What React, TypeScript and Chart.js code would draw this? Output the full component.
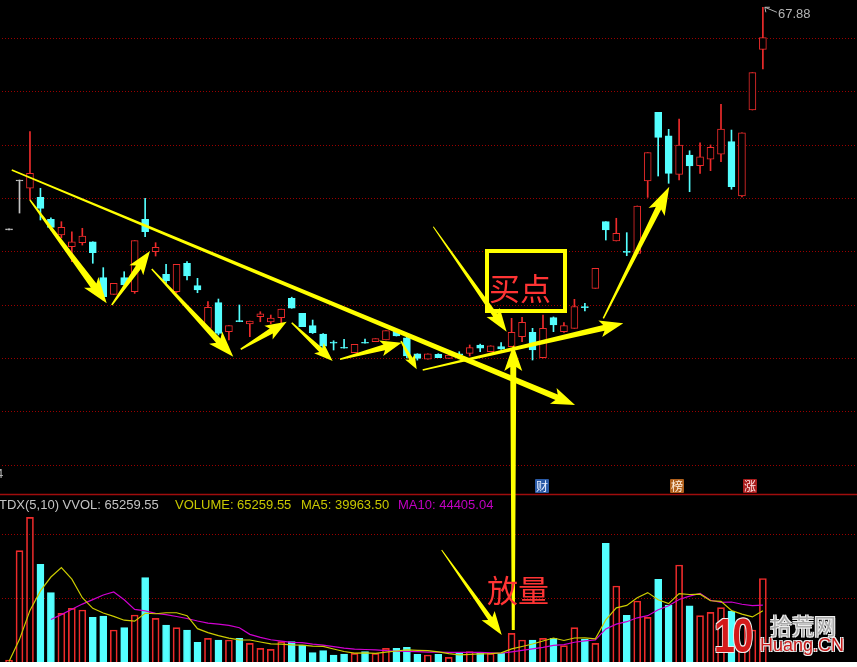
import React, { useEffect, useRef } from "react";
import { Chart, registerables } from "chart.js";

Chart.register(...registerables);

// ---------------- data (bar k = 0..72, left to right) ----------------
const OPEN = [47.10, 51.69, 50.91, 50.07, 48.00, 46.53, 45.43, 45.81, 45.90, 42.53, 40.97, 42.53, 41.21, 48.00, 44.97, 42.85, 41.21, 43.88, 41.78, 37.78, 40.19, 37.47, 38.50, 38.19, 38.87, 38.38, 38.78, 40.60, 39.19, 38.03, 37.25, 36.50, 36.00, 35.50, 36.48, 36.53, 36.69, 37.53, 36.90, 35.38, 34.88, 35.35, 34.97, 35.38, 35.44, 36.22, 35.59, 36.06, 36.06, 37.00, 37.41, 35.03, 38.78, 37.47, 37.78, 39.83, 41.53, 47.78, 45.97, 45.00, 44.81, 51.59, 58.03, 55.84, 52.22, 54.03, 53.03, 53.63, 54.12, 55.28, 50.19, 58.25, 63.94];
const HIGH = [47.10, 51.69, 56.22, 50.91, 48.13, 47.78, 46.84, 47.16, 45.90, 43.47, 42.00, 43.09, 46.00, 49.97, 45.81, 43.78, 43.78, 44.03, 42.47, 40.28, 40.53, 38.03, 39.97, 38.47, 39.34, 39.03, 39.59, 40.70, 39.19, 38.56, 37.30, 36.62, 36.75, 36.28, 36.78, 36.81, 37.56, 37.60, 36.95, 35.40, 35.38, 35.40, 35.28, 35.59, 36.22, 36.30, 36.15, 36.44, 38.72, 38.82, 37.78, 39.03, 38.85, 38.31, 40.50, 40.13, 43.41, 47.78, 48.10, 46.75, 49.25, 54.25, 58.03, 56.44, 57.41, 54.43, 55.18, 54.97, 58.78, 56.37, 56.12, 61.75, 67.88];
const LOW = [47.00, 48.59, 49.81, 47.94, 47.00, 46.25, 44.03, 45.59, 43.88, 40.44, 40.97, 41.84, 41.06, 46.37, 44.56, 42.00, 41.12, 42.31, 41.12, 37.78, 37.16, 36.69, 38.40, 37.00, 38.40, 38.20, 38.31, 39.66, 37.94, 37.30, 35.90, 35.75, 35.91, 35.50, 36.38, 36.53, 36.69, 37.06, 35.00, 34.80, 34.88, 35.03, 34.97, 35.28, 35.19, 35.59, 35.59, 35.80, 36.06, 36.53, 34.81, 35.00, 37.47, 37.40, 37.78, 39.41, 41.53, 46.06, 45.97, 44.59, 44.81, 50.06, 52.06, 51.38, 51.69, 50.59, 52.31, 52.56, 53.40, 50.82, 50.10, 58.25, 62.09];
const CLOSE = [47.00, 51.60, 52.31, 49.03, 47.25, 47.25, 45.90, 46.44, 44.87, 40.75, 42.00, 41.84, 46.00, 46.84, 45.38, 42.25, 43.78, 42.69, 41.38, 39.75, 37.31, 38.03, 38.40, 38.47, 39.13, 38.75, 39.59, 39.66, 37.94, 37.37, 36.12, 36.40, 35.91, 36.28, 36.38, 36.81, 37.56, 37.06, 35.20, 34.97, 35.38, 35.03, 35.28, 35.28, 35.97, 35.91, 36.15, 35.84, 37.41, 38.35, 35.75, 37.78, 38.09, 38.03, 39.83, 39.73, 43.41, 47.00, 46.69, 44.90, 49.25, 54.25, 55.69, 52.31, 54.97, 53.00, 53.87, 54.75, 56.47, 51.06, 56.12, 61.75, 65.03];
const GRAY_BARS = [0, 1];

const VOLUME = [1500, 86950, 113040, 76300, 54150, 38020, 41930, 40625, 34900, 35940, 25000, 26800, 36720, 65890, 34115, 28900, 26800, 25000, 15360, 18490, 17190, 17190, 18490, 14580, 10680, 9900, 15885, 15885, 13280, 7290, 8850, 5470, 6250, 6770, 8070, 6770, 10680, 10680, 11460, 5990, 5470, 5990, 3640, 6770, 8070, 7290, 6770, 6770, 22400, 17190, 17190, 18490, 18490, 12760, 26800, 17970, 14580, 92710, 59375, 36460, 47660, 34900, 64580, 44530, 75780, 43960, 36200, 38800, 42450, 39840, 30000, 25000, 65259.55];
const MA5 = [300, 17690, 40298, 55558, 66388, 73692, 64688, 50205, 41925, 38283, 35679, 32653, 31872, 38070, 37705, 38485, 38485, 36141, 26035, 22910, 20568, 18646, 17344, 17188, 15626, 14168, 13907, 13386, 13126, 12448, 12238, 10155, 8228, 6926, 7082, 6666, 7708, 8594, 9532, 9116, 8856, 7918, 6510, 5572, 5988, 6352, 6508, 7134, 10260, 12084, 14064, 16408, 18752, 16824, 18746, 18902, 18120, 32964, 42287, 44219, 50157, 54221, 48595, 45626, 53490, 52750, 53010, 47854, 47438, 40250, 37458, 35218, 39963.50];
const MA10 = [null, null, null, null, 33194, 36996, 41189, 45252, 48742, 52336, 54686, 48671, 41039, 39998, 37994, 37082, 35569, 34007, 32053, 30308, 29527, 28566, 26743, 21612, 19268, 17368, 16277, 15365, 15157, 14037, 13203, 12031, 10807, 10026, 9765, 9452, 8932, 8411, 8229, 8099, 7761, 7813, 7552, 7552, 7552, 7604, 7213, 6822, 7916, 9036, 10208, 11458, 12943, 13542, 15415, 16483, 17264, 25858, 29556, 31483, 34530, 36171, 40780, 43957, 48855, 51454, 53616, 48225, 46532, 46870, 45104, 44114, 44405.04];

const PRICE_GRID = [25, 30, 35, 40, 45, 50, 55, 60, 65];
const VOLUME_GRID = [50000, 100000];
const VOLUME_PANEL_TOP = 131250;

// annotation arrows: [bar0, value0, axis0, bar1, value1, axis1]  (axis: "p" price, "v" volume)
const ARROWS: [number, number, string, number, number, string][] = [
  [0.26, 52.62, "p", 54.06, 30.59, "p"],
  [2.0, 49.81, "p", 9.33, 40.13, "p"],
  [9.81, 39.97, "p", 13.46, 45.03, "p"],
  [13.63, 43.34, "p", 21.42, 35.12, "p"],
  [22.13, 35.82, "p", 26.52, 38.4, "p"],
  [27.0, 38.31, "p", 30.91, 34.72, "p"],
  [31.61, 34.88, "p", 37.5, 36.43, "p"],
  [37.44, 36.59, "p", 38.94, 33.94, "p"],
  [39.51, 33.87, "p", 58.67, 38.25, "p"],
  [56.76, 38.72, "p", 63.06, 51.06, "p"],
  [40.52, 47.31, "p", 47.53, 37.47, "p"],
  [48.16, 25000, "v", 48.16, 36.22, "p"],
  [41.32, 87500, "v", 47.06, 21094, "v"],
];

// ---------------- styles ----------------
const UP = "#ee2b2b";
const DOWN = "#54ffff";
const GRAY = "#c4c4c4";
const MA5_COLOR = "#cccc00";
const MA10_COLOR = "#d000d0";
const GRID_COLOR = "#9a0000";
const ARROW_COLOR = "#ffff00";
// [startWidth, endWidth, headLength, headWidth]
const ARROW_STYLE = [
  [1.5, 6, 20, 17],
  [1.5, 7, 22, 18],
  [1.5, 6, 20, 17],
  [1.5, 6, 22, 18],
  [1.5, 6, 18, 16],
  [1.5, 5, 16, 14],
  [1.5, 6, 18, 16],
  [1.5, 4, 12, 11],
  [1.5, 6, 20, 17],
  [1.5, 6, 24, 18],
  [1, 5, 20, 16],
  [3, 6, 22, 18],
  [1, 5, 20, 16],
];

const X_MIN = -0.8625;
const X_MAX = 80.99;
const PRICE_MIN = 6.5;
const PRICE_MAX = 68.5625;
const VOL_MAX = 517187.5;

function drawArrow(ctx: CanvasRenderingContext2D, x0: number, y0: number, x1: number, y1: number, st: number[]) {
  const [w0, w1, hl, hw] = st;
  const dx = x1 - x0, dy = y1 - y0;
  const len = Math.hypot(dx, dy);
  const ux = dx / len, uy = dy / len;
  const nx = -uy, ny = ux;
  const bx = x1 - ux * hl, by = y1 - uy * hl;
  const notch = hl * 0.18;
  ctx.beginPath();
  ctx.moveTo(x0 + nx * w0 / 2, y0 + ny * w0 / 2);
  ctx.lineTo(bx + nx * w1 / 2, by + ny * w1 / 2);
  ctx.lineTo(bx - ux * notch + nx * hw / 2, by - uy * notch + ny * hw / 2);
  ctx.lineTo(x1, y1);
  ctx.lineTo(bx - ux * notch - nx * hw / 2, by - uy * notch - ny * hw / 2);
  ctx.lineTo(bx - nx * w1 / 2, by - ny * w1 / 2);
  ctx.lineTo(x0 - nx * w0 / 2, y0 - ny * w0 / 2);
  ctx.closePath();
  ctx.fill();
}

const overlayPlugin = {
  id: "overlay",
  beforeDatasetsDraw(chart: any) {
    const ctx = chart.ctx as CanvasRenderingContext2D;
    const { left, right } = chart.chartArea;
    const ys = chart.scales.y;
    const yv = chart.scales.yv;
    ctx.save();
    // dotted grid lines of both panels
    ctx.fillStyle = GRID_COLOR;
    const dotted = (py: number) => {
      const y = Math.round(py);
      for (let x = left + 2; x < right; x += 3) ctx.fillRect(x, y, 1, 1);
    };
    PRICE_GRID.forEach((v) => dotted(ys.getPixelForValue(v)));
    VOLUME_GRID.forEach((v) => dotted(yv.getPixelForValue(v)));
    // panel divider
    const y = Math.round(yv.getPixelForValue(VOLUME_PANEL_TOP)) + 0.5;
    ctx.strokeStyle = "#a00d0d";
    ctx.lineWidth = 1.5;
    ctx.beginPath();
    ctx.moveTo(left, y);
    ctx.lineTo(right, y);
    ctx.stroke();
    ctx.restore();
  },
  afterDatasetsDraw(chart: any) {
    const ctx = chart.ctx as CanvasRenderingContext2D;
    const xs = chart.scales.x;
    const ys = chart.scales.y;
    const yv = chart.scales.yv;
    const py = (v: number, a: string) => (a === "v" ? yv : ys).getPixelForValue(v);
    ctx.save();
    ctx.fillStyle = ARROW_COLOR;
    ARROWS.forEach((a, i) => {
      drawArrow(ctx, xs.getPixelForValue(a[0]), py(a[1], a[2]), xs.getPixelForValue(a[3]), py(a[4], a[5]), ARROW_STYLE[i]);
    });
    // leader to the highest price label
    let hk = 0;
    HIGH.forEach((h, k) => { if (h > HIGH[hk]) hk = k; });
    const hx = xs.getPixelForValue(hk) + 2;
    const hy = ys.getPixelForValue(HIGH[hk]);
    ctx.strokeStyle = "#b4b4b4";
    ctx.lineWidth = 1;
    ctx.beginPath();
    ctx.moveTo(hx, hy);
    ctx.lineTo(hx + 12, hy + 5);
    ctx.moveTo(hx, hy);
    ctx.lineTo(hx + 1, hy + 5);
    ctx.moveTo(hx, hy);
    ctx.lineTo(hx + 5, hy);
    ctx.stroke();
    ctx.restore();
  },
};

const HIGH_LABEL = Math.max(...HIGH).toFixed(2);
const HEADER = [
  { text: "TDX(5,10) VVOL: " + VOLUME[VOLUME.length - 1].toFixed(2), color: "#c4c4c4", left: -1 },
  { text: "VOLUME: " + VOLUME[VOLUME.length - 1].toFixed(2), color: "#c8c800", left: 175 },
  { text: "MA5: " + MA5[MA5.length - 1].toFixed(2), color: "#c8c800", left: 301 },
  { text: "MA10: " + (MA10[MA10.length - 1] as number).toFixed(2), color: "#c000c0", left: 398 },
];
const MARKERS = [
  { text: "财", left: 535, bg: "#2a5aa6", color: "#e6eeff" },
  { text: "榜", left: 670, bg: "#b0601c", color: "#fff0e0" },
  { text: "涨", left: 743, bg: "#a81c1c", color: "#ffe2e2" },
];

const CJK = '"Noto Sans CJK SC", "Noto Sans", sans-serif';
const LATIN = '"Liberation Sans", Arial, sans-serif';
const OUTLINE = "1px 1px 0 #eee, -1px -1px 0 #eee, 1px -1px 0 #eee, -1px 1px 0 #eee";

export default function App() {
  const ref = useRef<HTMLCanvasElement>(null);

  useEffect(() => {
    const canvas = ref.current;
    if (!canvas) return;
    const ks = OPEN.map((_, k) => k);
    const isGray = (k: number) => GRAY_BARS.includes(k);
    const candleColor = (k: number) => (isGray(k) ? GRAY : CLOSE[k] >= OPEN[k] ? UP : DOWN);
    const volColor = (k: number) => (!isGray(k) && CLOSE[k] < OPEN[k] ? DOWN : UP);

    const hiddenAxis = (min: number, max: number) => ({
      type: "linear" as const,
      position: "left" as const,
      min,
      max,
      display: false,
    });

    const chart = new Chart(canvas, {
      type: "bar",
      data: {
        datasets: [
          {
            type: "bar",
            label: "VOLUME",
            yAxisID: "yv",
            data: VOLUME.map((v, k) => ({ x: k, y: v })) as any,
            backgroundColor: ks.map((k) => (volColor(k) === DOWN ? DOWN : "rgba(0,0,0,0)")),
            borderColor: ks.map(volColor),
            borderWidth: 1,
            borderSkipped: "start",
            barThickness: 7,
            grouped: false,
            order: 5,
          } as any,
          {
            type: "line",
            label: "MA10",
            yAxisID: "yv",
            data: MA10.map((v, k) => ({ x: k, y: v })) as any,
            borderColor: MA10_COLOR,
            borderWidth: 1.2,
            pointRadius: 0,
            order: 4,
          } as any,
          {
            type: "line",
            label: "MA5",
            yAxisID: "yv",
            data: MA5.map((v, k) => ({ x: k, y: v })) as any,
            borderColor: MA5_COLOR,
            borderWidth: 1.2,
            pointRadius: 0,
            order: 3,
          } as any,
          {
            type: "bar",
            label: "wick",
            yAxisID: "y",
            data: ks.map((k) => ({ x: k, y: [LOW[k], HIGH[k]] })) as any,
            backgroundColor: ks.map(candleColor),
            borderWidth: 0,
            barThickness: 1,
            grouped: false,
            order: 2,
          } as any,
          {
            type: "bar",
            label: "body",
            yAxisID: "y",
            data: ks.map((k) => ({ x: k, y: [OPEN[k], CLOSE[k]] })) as any,
            backgroundColor: ks.map((k) => (candleColor(k) === UP ? "#000000" : candleColor(k))),
            borderColor: ks.map(candleColor),
            borderWidth: 1,
            borderSkipped: false,
            barThickness: 7,
            grouped: false,
            order: 1,
          } as any,
        ],
      },
      options: {
        animation: false,
        responsive: false,
        events: [],
        layout: { padding: 0 },
        plugins: { legend: { display: false }, tooltip: { enabled: false } },
        scales: {
          x: { type: "linear", min: X_MIN, max: X_MAX, offset: false, display: false },
          y: hiddenAxis(PRICE_MIN, PRICE_MAX),
          yv: hiddenAxis(0, VOL_MAX),
        } as any,
      },
      plugins: [overlayPlugin],
    });
    return () => chart.destroy();
  }, []);

  const abs = (s: React.CSSProperties): React.CSSProperties => ({ position: "absolute", whiteSpace: "nowrap", ...s });

  return (
    <div style={{ position: "fixed", left: 0, top: 0, width: 857, height: 667, background: "#ffffff" }}>
      <div style={{ position: "absolute", left: 0, top: 0, width: 857, height: 662, background: "#000000", overflow: "hidden", fontFamily: LATIN }}>
        <canvas ref={ref} width={857} height={662} style={{ display: "block", width: 857, height: 662 }} />

        <div style={abs({ left: 778, top: 6, fontSize: 13, lineHeight: "15px", color: "#b4b4b4" })}>{HIGH_LABEL}</div>
        <div style={abs({ left: -4, top: 466, fontSize: 13, lineHeight: "15px", color: "#b4b4b4" })}>4</div>

        {HEADER.map((h) => (
          <div key={h.text} style={abs({ left: h.left, top: 497, fontSize: 13, lineHeight: "15px", color: h.color })}>{h.text}</div>
        ))}

        {MARKERS.map((m) => (
          <div key={m.text} style={abs({ left: m.left, top: 479, width: 14, height: 14, background: m.bg, color: m.color, fontFamily: CJK, fontSize: 12, lineHeight: "14px", textAlign: "center", borderRadius: 1 })}>{m.text}</div>
        ))}

        <div style={abs({ left: 485, top: 249, width: 82, height: 64, border: "4px solid #ffff00", boxSizing: "border-box" })} />
        <div style={abs({ left: 489, top: 271, fontFamily: CJK, fontSize: 31, lineHeight: "32px", color: "#ff3434" })}>买点</div>
        <div style={abs({ left: 487, top: 573, fontFamily: CJK, fontSize: 31, lineHeight: "32px", color: "#ff3434" })}>放量</div>

        <div style={abs({ left: 714, top: 612, fontFamily: LATIN, fontWeight: 700, fontSize: 48, lineHeight: "48px", letterSpacing: -3, color: "#d41a1a", textShadow: OUTLINE, transform: "scaleX(0.78)", transformOrigin: "0 0" })}>10</div>
        <div style={abs({ left: 770, top: 612, fontFamily: CJK, fontSize: 22, lineHeight: "24px", color: "#a8a8a8", textShadow: OUTLINE })}>拾荒网</div>
        <div style={abs({ left: 760, top: 635, fontFamily: LATIN, fontSize: 18, lineHeight: "21px", color: "#c81a1a", textShadow: OUTLINE })}>Huang.CN</div>
      </div>
    </div>
  );
}
